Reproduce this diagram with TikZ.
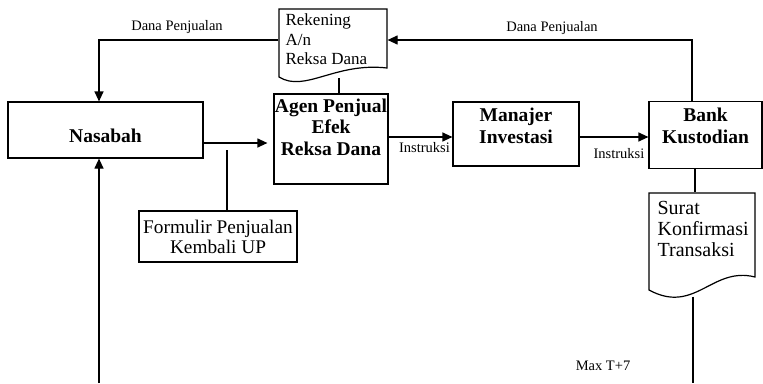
\documentclass[tikz,border=0pt]{standalone}
\usepackage{fontspec}
\setmainfont{Liberation Serif}
\usetikzlibrary{arrows.meta}

\begin{document}
\begin{tikzpicture}[x=1pt,y=-1pt,line width=1.2pt,
    box/.style={draw,inner sep=0},
    head/.style={font=\fontsize{19.5}{21.5}\selectfont\bfseries,align=center,inner sep=0},
    lbl/.style={font=\fontsize{14.5}{16}\selectfont,inner sep=0},
    arr/.style={-{Triangle[length=10pt,width=9pt]}}]
    \useasboundingbox (0,0) rectangle (763,383);

    % kotak
    \node[box,minimum width=195pt,minimum height=56pt] (nasabah) at (105.5,130) {};
    \node[box,minimum width=114pt,minimum height=90pt] (agen) at (331,139) {};
    \node[box,minimum width=126pt,minimum height=64pt] (manajer) at (516,134) {};
    \node[box,minimum width=113pt,minimum height=67pt] (bank) at (705.5,135) {};
    \node[box,minimum width=158pt,minimum height=51pt,align=center,
          font=\fontsize{19.3}{20}\selectfont] (formulir) at (218,236.5)
          {Formulir Penjualan\\Kembali UP};

    \node[head] (nasabahtxt) at (105.5,136) {Nasabah};
    \node[head] (agentxt) at (331,127) {Agen Penjual\\Efek\\Reksa Dana};
    \node[head] (manajertxt) at (516,126) {Manajer\\Investasi};
    \node[head] (banktxt) at (705.5,126) {Bank\\Kustodian};

    % dokumen
    \node[minimum width=108pt,minimum height=68pt,inner sep=0] (rekening) at (333,43) {};
    \draw (279,77) -- (279,9) -- (387,9) -- (387,68)
        .. controls (335,62) and (305,93) .. (279,77) -- cycle;
    \node[align=left,anchor=west,inner sep=0,font=\fontsize{17}{19.5}\selectfont]
        (rekeningtxt) at (285,39.6) {Rekening\\A/n\\Reksa Dana};

    \node[minimum width=106pt,minimum height=97pt,inner sep=0] (surat) at (702,241.5) {};
    \draw (649,290) -- (649,193) -- (755,193) -- (755,277)
        .. controls (712,266) and (695,315) .. (649,290) -- cycle;
    \node[align=left,anchor=west,inner sep=0,font=\fontsize{20}{20.8}\selectfont]
        (surattxt) at (657,229) {Surat\\Konfirmasi\\Transaksi};

    % keterangan
    \foreach \n/\x/\y/\t in {danakiri/177/27.5/Dana Penjualan,
                             danakanan/552/28/Dana Penjualan,
                             instruksia/424.5/148/Instruksi,
                             instruksib/619/153.5/Instruksi,
                             maxt/603/366/Max T+7}
        {\node[lbl] (\n) at (\x,\y) {\t};}

    % panah
    \draw[arr] ([yshift=3pt]rekening.west) -| ([xshift=-6.5pt]nasabah.north);
    \draw[arr] ([xshift=-13.5pt]bank.north) |- ([yshift=3pt]rekening.east);
    \draw ([xshift=8pt]agen.north) -- ([xshift=8pt]agen.north |- rekening.south);
    \draw[arr,shorten >=6pt] ([yshift=-13pt]nasabah.east) -- ([yshift=-13pt]nasabah.east -| agen.west);
    \coordinate (formtap) at (227,150);
    \draw (formtap) -- (formtap |- formulir.north);
    \draw[arr] ([yshift=-3pt]manajer.west -| agen.east) -- ([yshift=-3pt]manajer.west);
    \draw[arr] ([yshift=-3pt]manajer.east) -- ([yshift=-3pt]manajer.east -| bank.west);
    \coordinate (nasabahin) at (99,383);
    \draw[arr] (nasabahin) -- (nasabahin |- nasabah.south);
    \draw ([xshift=-10.5pt]bank.south) -- ([xshift=-10.5pt]bank.south |- surat.north);
    \coordinate (suratwave) at (693,296.5);
    \coordinate (suratout) at (693,383);
    \draw (suratwave) -- (suratout);
\end{tikzpicture}
\end{document}
